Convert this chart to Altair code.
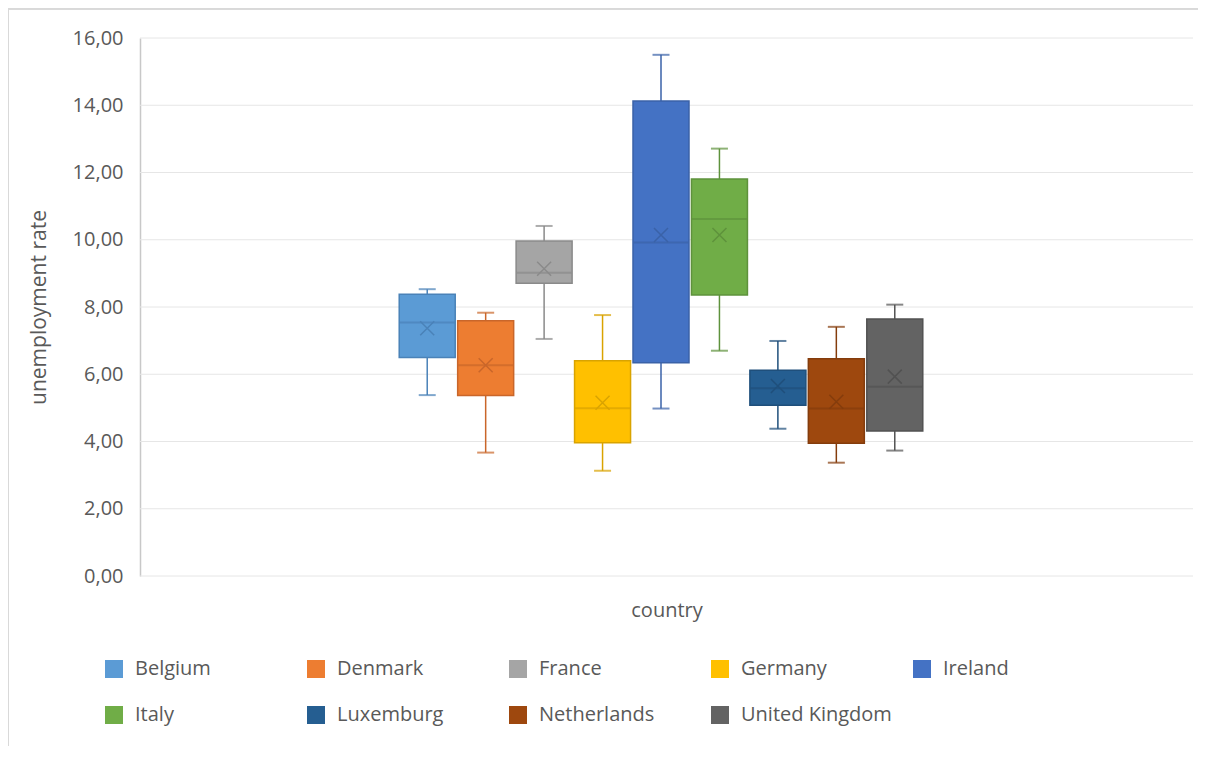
import altair as alt
import pandas as pd

countries = ["Belgium", "Denmark", "France", "Germany", "Ireland",
             "Italy", "Luxemburg", "Netherlands", "United Kingdom"]
whisker_low = [5.38, 3.67, 7.05, 3.13, 4.98, 6.70, 4.38, 3.37, 3.73]
q1 = [6.50, 5.37, 8.71, 3.96, 6.34, 8.36, 5.08, 3.95, 4.31]
median = [7.54, 6.27, 9.02, 4.99, 9.92, 10.62, 5.58, 4.98, 5.63]
q3 = [8.38, 7.59, 9.96, 6.40, 14.13, 11.81, 6.12, 6.46, 7.64]
whisker_high = [8.53, 7.83, 10.41, 7.76, 15.50, 12.71, 6.99, 7.41, 8.07]
mean = [7.37, 6.27, 9.14, 5.15, 10.14, 10.14, 5.65, 5.18, 5.93]
y_ticks = [0, 2, 4, 6, 8, 10, 12, 14, 16]

fills = ["#5B9BD5", "#ED7D31", "#A5A5A5", "#FFC000", "#4472C4",
         "#70AD47", "#255E91", "#9E480E", "#636363"]
strokes = ["#4A82B8", "#C9662A", "#8A8A8A", "#D9A300", "#3A62A8",
           "#5E923C", "#1F4F7B", "#843C0C", "#525252"]

df = pd.DataFrame({
    "country": countries,
    "series": countries,
    "low": whisker_low,
    "q1": q1,
    "median": median,
    "q3": q3,
    "high": whisker_high,
    "mean": mean,
})
grid_df = pd.DataFrame({"v": y_ticks})

FONT = "Open Sans"
TXT = "#595959"

x_enc = alt.X(
    "country:N",
    sort=countries,
    scale=alt.Scale(domain=countries, range=[258, 784], paddingInner=0, paddingOuter=0),
    axis=alt.Axis(labels=False, ticks=False, domain=False, grid=False,
                  title="country", titleFont=FONT, titleFontSize=20,
                  titleFontWeight="normal", titleColor=TXT, titlePadding=24,
                  titleX=526.5, titleAnchor="middle"),
)
# darker line colours: data-derived domain (sorted) so their (hidden) legends
# are not merged with the fill-colour legend
stroke_enc = alt.Stroke("series:N", sort=countries, scale=alt.Scale(range=strokes), legend=None)
fill_line_enc = alt.Fill("series:N", sort=countries, scale=alt.Scale(range=strokes), legend=None)
y_scale = alt.Scale(domain=[0, 16], nice=False)
y_axis = alt.Axis(
    values=y_ticks,
    labelExpr="replace(format(datum.value, '.2f'), '.', ',')",
    grid=False,
    domain=True, domainColor="#c8c8c8", domainWidth=1.5,
    ticks=False, labelFont=FONT, labelFontSize=20, labelColor=TXT, labelPadding=17,
    title="unemployment rate", titleFont=FONT, titleFontSize=21,
    titleFontWeight="normal", titleColor=TXT, titlePadding=23,
)

grid = alt.Chart(grid_df).mark_rule(color="#e6e6e6", strokeWidth=1).encode(
    y=alt.Y("v:Q", scale=y_scale, axis=y_axis),
    x=alt.value(0), x2=alt.value(1053),
)

border_top = alt.Chart(grid_df).mark_rule(color="#d9d9d9", strokeWidth=1).encode(
    x=alt.value(-132), x2=alt.value(1058), y=alt.value(-29))
border_left = alt.Chart(grid_df).mark_rule(color="#d9d9d9", strokeWidth=1.5).encode(
    x=alt.value(-132), y=alt.value(-29), y2=alt.value(720))

base = alt.Chart(df)

whiskers = base.mark_rule(strokeWidth=1.5).encode(
    x=x_enc,
    y=alt.Y("low:Q", scale=y_scale),
    y2="high:Q",
    stroke=stroke_enc,
)

caps_hi = base.mark_tick(size=17, thickness=2, strokeWidth=0).encode(
    x=x_enc, y=alt.Y("high:Q", scale=y_scale), fill=fill_line_enc)
caps_lo = base.mark_tick(size=17, thickness=2, strokeWidth=0).encode(
    x=x_enc, y=alt.Y("low:Q", scale=y_scale), fill=fill_line_enc)

boxes = base.mark_bar(size=56, strokeWidth=0).encode(
    x=x_enc,
    y=alt.Y("q1:Q", scale=y_scale),
    y2="q3:Q",
    color=alt.Color(
        "country:N",
        scale=alt.Scale(domain=countries, range=fills),
        legend=alt.Legend(
            orient="none", legendX=-36, legendY=621,
            direction="horizontal", columns=5, gridAlign="all",
            columnPadding=20, rowPadding=26,
            symbolType="square", symbolSize=324, symbolStrokeWidth=0,
            labelFont=FONT, labelFontSize=20, labelColor=TXT, labelOffset=11,
            labelLimit=400,
        ),
    ),
)

outlines = base.mark_bar(size=56, strokeWidth=1.5, fillOpacity=0).encode(
    x=x_enc,
    y=alt.Y("q1:Q", scale=y_scale),
    y2="q3:Q",
    stroke=stroke_enc,
)

medians = base.mark_tick(size=55, thickness=2, strokeWidth=0).encode(
    x=x_enc, y=alt.Y("median:Q", scale=y_scale), fill=fill_line_enc)

means = base.mark_point(shape="M-1,-1L1,1M-1,1L1,-1", filled=False, size=196,
                        strokeWidth=1.5, opacity=1).encode(
    x=x_enc, y=alt.Y("mean:Q", scale=y_scale), stroke=stroke_enc)

chart = alt.layer(grid, border_top, border_left, whiskers, caps_hi, caps_lo,
                  boxes, outlines, medians, means).properties(
    width=1053, height=538,
    autosize=alt.AutoSizeParams(type="none"),
    padding={"left": 132, "top": 30, "right": 5, "bottom": 170},
    background="white",
).configure_view(stroke=None).configure_legend(title=None)

chart.save("out.html", embed_options={"renderer": "svg", "actions": False})
